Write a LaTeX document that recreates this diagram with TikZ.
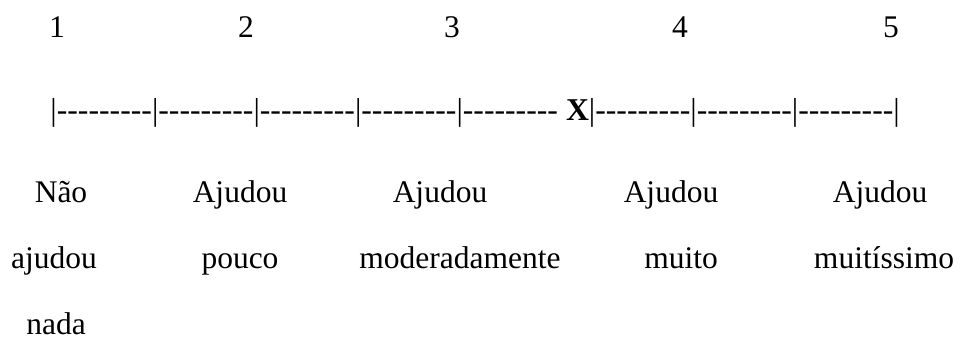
\documentclass[tikz,border=0pt]{standalone}
\usepackage{fontspec}
\setmainfont{Liberation Serif}
\newfontfamily\rawserif{Liberation Serif}[Ligatures=TeXOff]
\tikzset{
  lbl/.style={anchor=base, inner sep=0pt, font=\fontsize{12.6}{14}\selectfont},
  scaleline/.style={anchor=base west, inner sep=0pt, font=\rawserif\fontsize{12.7}{14}\selectfont}
}
\newcommand\hyph{---------}
\begin{document}
\begin{tikzpicture}[x=0.4pt, y=-0.4pt]
\useasboundingbox (0,0) rectangle (960,343);
% numbers
\node[lbl] (n1) at (57,37) {1};
\node[lbl] (n2) at (246,37) {2};
\node[lbl] (n3) at (452,37) {3};
\node[lbl] (n4) at (680,37) {4};
\node[lbl] (n5) at (891,37) {5};
% scale line
\node[scaleline] (line) at (50,120) {|\hyph|\hyph|\hyph|\hyph|\hyph{} \textbf{X}|\hyph|\hyph|\hyph|};
% labels row 1
\node[lbl] (a1) at (61,202) {Não};
\node[lbl] (a2) at (240,202) {Ajudou};
\node[lbl] (a3) at (440,202) {Ajudou};
\node[lbl] (a4) at (671,202) {Ajudou};
\node[lbl] (a5) at (880,202) {Ajudou};
% labels row 2
\node[lbl] (b1) at (54,268) {ajudou};
\node[lbl] (b2) at (240,268) {pouco};
\node[lbl] (b3) at (460,268) {moderadamente};
\node[lbl] (b4) at (681,268) {muito};
\node[lbl] (b5) at (884,268) {muitíssimo};
% labels row 3
\node[lbl] (c1) at (56,334) {nada};
\end{tikzpicture}
\end{document}
